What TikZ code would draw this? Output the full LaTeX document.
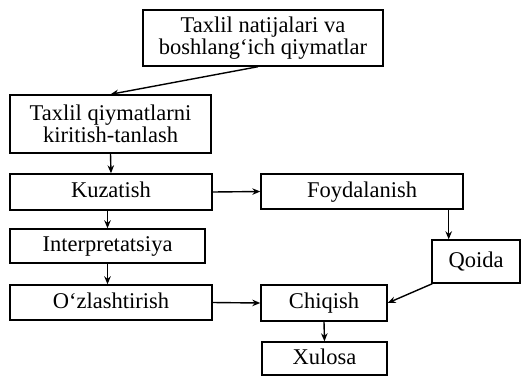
\documentclass[tikz,border=0pt]{standalone}
\usepackage{fontspec}
\setmainfont{Liberation Serif}
\usetikzlibrary{arrows.meta}
\begin{document}
\begin{tikzpicture}[x=1pt,y=-1pt,
  every node/.style={draw,line width=1.4pt,inner sep=2pt,font=\fontsize{22.5}{21.5}\selectfont,align=center},
  every path/.style={line width=1.4pt},
  arr/.style={-{Stealth[length=8pt,width=6.5pt]}}]
\useasboundingbox (0,0) rectangle (522,376);
\node[minimum width=240pt,minimum height=56pt] (top) at (263,38) {Taxlil natijalari va\\boshlang‘ich qiymatlar};
\node[minimum width=201pt,minimum height=58pt] (kirit) at (110.5,124) {Taxlil qiymatlarni\\kiritish-tanlash};
\tikzset{every node/.append style={text height=15.5pt,text depth=4.5pt}}
\node[minimum width=202pt,minimum height=36pt] (kuz) at (111,192) {Kuzatish};
\node[minimum width=202pt,minimum height=35pt] (foyd) at (362,191.5) {Foydalanish};
\node[minimum width=195pt,minimum height=34pt] (interp) at (107.5,246) {Interpretatsiya};
\node[minimum width=88pt,minimum height=43pt] (qoida) at (476,261.5) {Qoida};
\node[minimum width=202pt,minimum height=35pt] (ozl) at (111,302.5) {O‘zlashtirish};
\node[minimum width=126pt,minimum height=36pt] (chiq) at (324,303) {Chiqish};
\node[minimum width=125pt,minimum height=33pt] (xul) at (324.5,358.5) {Xulosa};
\draw[arr] ([xshift=-5pt]top.south) -- (kirit.north);
\draw[arr] (kirit.south) -- (kuz.north);
\draw[arr] (interp.north |- kuz.south) -- (interp.north);
\draw[arr] (interp.south) -- (interp.south |- ozl.north);
\draw[arr] (kuz.east) -- (foyd.west);
\draw[arr] ([xshift=-15pt]foyd.south east) -- ([xshift=-15pt]foyd.south east |- qoida.north);
\draw[arr] ([xshift=1pt]qoida.south west) -- (chiq.east);
\draw[arr] (ozl.east) -- (chiq.west);
\draw[arr] (chiq.south) -- (xul.north);
\end{tikzpicture}
\end{document}
